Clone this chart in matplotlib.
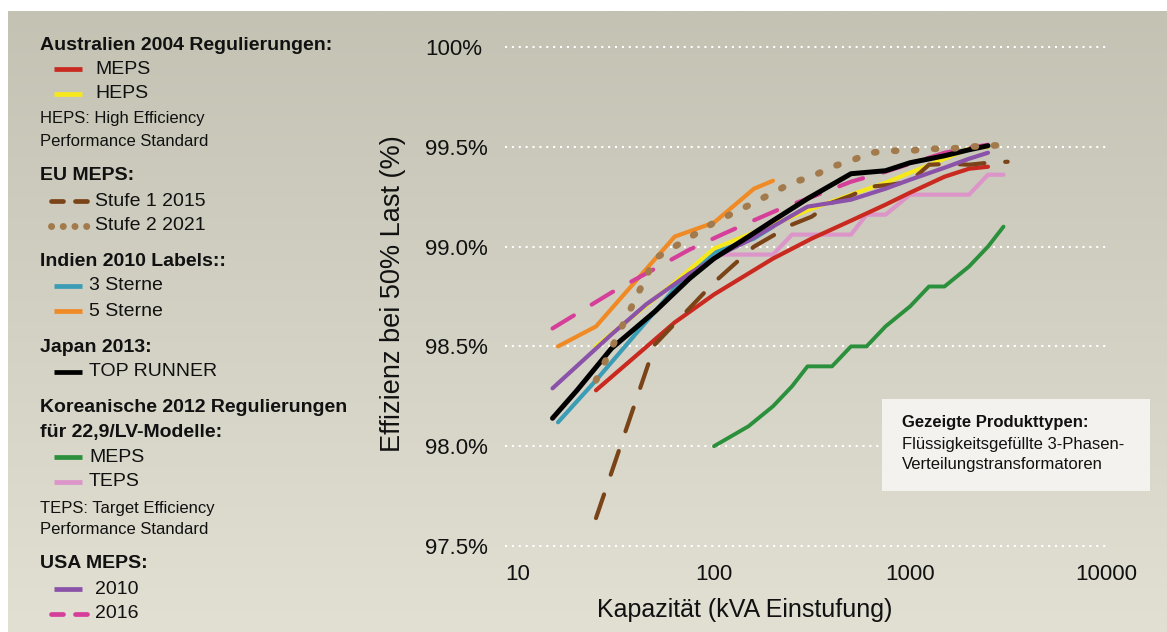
import numpy as np
import matplotlib
matplotlib.use("Agg")
import matplotlib.pyplot as plt
from matplotlib.colors import LinearSegmentedColormap
from matplotlib.patches import Rectangle

plt.rcParams['font.family'] = ['Liberation Sans', 'DejaVu Sans']

# ---------------- data (kVA, efficiency at 50% load in %) ----------------
au_kva = [25, 63, 100, 200, 315, 500, 750, 1000, 1500, 2000, 2500]
au_meps = [98.28, 98.62, 98.76, 98.94, 99.04, 99.13, 99.21, 99.27, 99.35, 99.39, 99.40]
au_heps = [98.50, 98.82, 98.99, 99.11, 99.19, 99.26, 99.32, 99.37, 99.44, 99.49, 99.50]

eu_kva = [25, 50, 100, 160, 250, 315, 400, 500, 630, 800, 1000, 1250, 1600, 2000, 2500, 3150]
eu_tier1 = [97.64, 98.51, 98.82, 99.00, 99.11, 99.15, 99.22, 99.255, 99.30, 99.31,
            99.325, 99.41, 99.415, 99.41, 99.42, 99.425]
eu_tier2 = [98.33, 98.94, 99.12, 99.22, 99.32, 99.35, 99.40, 99.43, 99.47, 99.48,
            99.48, 99.49, 99.49, 99.50, 99.505, 99.51]

in_kva = [16, 25, 63, 100, 160, 200]
in_3star = [98.12, 98.33, 98.79, 98.97, 99.04, 99.10]
in_5star = [98.50, 98.60, 99.05, 99.12, 99.29, 99.33]

jp_kva = [15, 20, 30, 50, 75, 100, 150, 200, 300, 500, 750, 1000, 1500, 2000, 2500]
jp_top = [98.14, 98.28, 98.49, 98.675, 98.84, 98.94, 99.05, 99.13, 99.24, 99.365,
          99.38, 99.42, 99.455, 99.485, 99.505]

kr_kva = [100, 150, 200, 250, 300, 400, 500, 600, 750, 1000, 1250, 1500, 2000, 2500, 3000]
kr_meps = [98.0, 98.1, 98.2, 98.3, 98.4, 98.4, 98.5, 98.5, 98.6, 98.7, 98.8, 98.8, 98.9, 99.0, 99.1]
kr_teps = [98.96, 98.96, 98.96, 99.06, 99.06, 99.06, 99.06, 99.16, 99.16, 99.26, 99.26,
           99.26, 99.26, 99.36, 99.36]

us_kva = [15, 30, 45, 75, 112.5, 150, 225, 300, 500, 750, 1000, 1500, 2000, 2500]
us_2010 = [98.29, 98.56, 98.71, 98.865, 98.97, 99.03, 99.13, 99.20, 99.235, 99.29,
           99.335, 99.395, 99.44, 99.47]
us_2016 = [98.59, 98.77, 98.865, 98.985, 99.065, 99.12, 99.195, 99.24, 99.325, 99.375,
           99.415, 99.47, 99.495, 99.51]

y_ticks = [97.5, 98.0, 98.5, 99.0, 99.5, 100.0]
y_ticklabels = ['97.5%', '98.0%', '98.5%', '99.0%', '99.5%', '100%']
x_ticks = [10, 100, 1000, 10000]
x_ticklabels = ['10', '100', '1000', '10000']

# ---------------- colours ----------------
C_RED = '#c9291f'
C_YEL = '#f7e81c'
C_BROWN = '#7a4418'
C_TAN = '#a27a4c'
C_BLUE = '#3b9cb6'
C_ORANGE = '#f08a24'
C_BLACK = '#000000'
C_GREEN = '#2b903b'
C_PINK = '#dc95c8'
C_PURPLE = '#8a52a8'
C_MAGENTA = '#d63f99'

W, H = 1167, 632
fig = plt.figure(figsize=(W / 100, H / 100), dpi=100)
fig.patch.set_facecolor('white')

# background gradient panel
bg = fig.add_axes([8 / W, 0, 1 - 8 / W, (H - 11) / H], zorder=0)
grad = np.linspace(0, 1, 256).reshape(-1, 1)
cmap = LinearSegmentedColormap.from_list('bg', ['#c3c2b3', '#d3d1c4', '#e2dfd3'])
bg.imshow(grad, aspect='auto', cmap=cmap, extent=[0, 1, 0, 1], origin='upper')
bg.axis('off')

# ---------------- main axes ----------------
ax = fig.add_axes([505 / W, (H - 556) / H, 603 / W, 529 / H], zorder=2)
ax.set_facecolor('none')
ax.set_xscale('log')
ax.set_xlim(8.584, 10238)
ax.set_ylim(97.45, 100.1)
for s in ax.spines.values():
    s.set_visible(False)
ax.set_yticks(y_ticks)
ax.set_yticklabels(y_ticklabels)
ax.set_xticks(x_ticks)
ax.set_xticklabels(x_ticklabels)
ax.xaxis.set_minor_locator(matplotlib.ticker.NullLocator())
ax.tick_params(axis='both', length=0, labelsize=16, colors='#111111')
ax.tick_params(axis='y', pad=57.6)
for lab in ax.get_yticklabels():
    lab.set_horizontalalignment('left')
ax.tick_params(axis='x', pad=6)
ax.yaxis.grid(True, color='white', lw=1.5, ls=(0, (1, 2.3)))
ax.set_axisbelow(True)

ax.set_xlabel('Kapazität (kVA Einstufung)', fontsize=18, color='#111111')
ax.xaxis.set_label_coords((745 - 505) / 603, -0.08)
ax.set_ylabel('Effizienz bei 50% Last (%)', fontsize=19.5, color='#111111')
ax.yaxis.set_label_coords((406 - 505) / 603, (556 - 294) / 529)

LW = 3.0
common = dict(solid_capstyle='round', solid_joinstyle='round',
              dash_capstyle='round', dash_joinstyle='round')
ax.plot(kr_kva, kr_meps, color=C_GREEN, lw=2.8, zorder=3, **common)
ax.plot(kr_kva, kr_teps, color=C_PINK, lw=LW, zorder=3.1, **common)
ax.plot(au_kva, au_meps, color=C_RED, lw=LW, zorder=3.2, **common)
ax.plot(in_kva, in_3star, color=C_BLUE, lw=LW, zorder=3.3, **common)
ax.plot(au_kva, au_heps, color=C_YEL, lw=LW, zorder=3.4, **common)
ax.plot(in_kva, in_5star, color=C_ORANGE, lw=LW, zorder=3.5, **common)
ax.plot(eu_kva, eu_tier1, color=C_BROWN, lw=LW, ls=(0, (6, 5)), zorder=3.6, **common)
ax.plot(us_kva, us_2010, color=C_PURPLE, lw=LW, zorder=3.7, **common)
ax.plot(us_kva, us_2016, color=C_MAGENTA, lw=LW, ls=(0, (6, 5)), zorder=3.8, **common)
ax.plot(jp_kva, jp_top, color=C_BLACK, lw=3.6, zorder=3.9, **common)
ax.plot(eu_kva, eu_tier2, color=C_TAN, lw=4.8, ls=(0, (0.3, 2.7)), zorder=4.0, **common)

# ---------------- overlay (legend + note box) ----------------
lg = fig.add_axes([0, 0, 1, 1], zorder=5)
lg.set_xlim(0, W)
lg.set_ylim(H, 0)
lg.axis('off')
lg.patch.set_alpha(0)

TXT = '#111111'


def head(y, s):
    lg.text(40, y, s, fontsize=14, fontweight='bold', color=TXT, va='center', ha='left')


def note(y, s):
    lg.text(40, y, s, fontsize=12, color=TXT, va='center', ha='left')


def item(y, s, color, x_text, style='solid'):
    if style == 'solid':
        lg.plot([54, 82], [y, y], color=color, lw=3.4, solid_capstyle='butt')
    elif style == 'dash':
        lg.plot([50.5, 86.5], [y, y], color=color, lw=3.4, ls=(0, (2.54, 2.54)),
                dash_capstyle='round')
    elif style == 'dot':
        lg.plot([50.7, 86.5], [y, y], color=color, lw=5.0, ls=(0, (0.02, 1.666)),
                dash_capstyle='round')
    lg.text(x_text, y, s, fontsize=14, color=TXT, va='center', ha='left')


head(45, 'Australien 2004 Regulierungen:')
item(69, 'MEPS', C_RED, 95)
item(94, 'HEPS', C_YEL, 95)
note(118, 'HEPS: High Efficiency')
note(141, 'Performance Standard')
head(175, 'EU MEPS:')
item(201, 'Stufe 1 2015', C_BROWN, 95, 'dash')
item(226, 'Stufe 2 2021', C_TAN, 95, 'dot')
head(261, 'Indien 2010 Labels::')
item(286, '3 Sterne', C_BLUE, 89)
item(311, '5 Sterne', C_ORANGE, 89)
head(347, 'Japan 2013:')
item(372, 'TOP RUNNER', C_BLACK, 89)
head(408, 'Koreanische 2012 Regulierungen')
head(433, 'für 22,9/LV-Modelle:')
item(457, 'MEPS', C_GREEN, 89)
item(482, 'TEPS', C_PINK, 89)
note(508, 'TEPS: Target Efficiency')
note(530, 'Performance Standard')
head(564, 'USA MEPS:')
item(589, '2010', C_PURPLE, 95)
item(614, '2016', C_MAGENTA, 95, 'dash')

# note box
lg.add_patch(Rectangle((882, 399), 268, 92, facecolor='#f3f2ee', edgecolor='none'))
lg.text(902, 423, 'Gezeigte Produkttypen:', fontsize=12, fontweight='bold', color=TXT,
        va='center', ha='left')
lg.text(902, 444, 'Flüssigkeitsgefüllte 3-Phasen-', fontsize=12, color=TXT,
        va='center', ha='left')
lg.text(902, 465, 'Verteilungstransformatoren', fontsize=12, color=TXT,
        va='center', ha='left')

fig.savefig('out.png', dpi=100, facecolor=fig.get_facecolor())
